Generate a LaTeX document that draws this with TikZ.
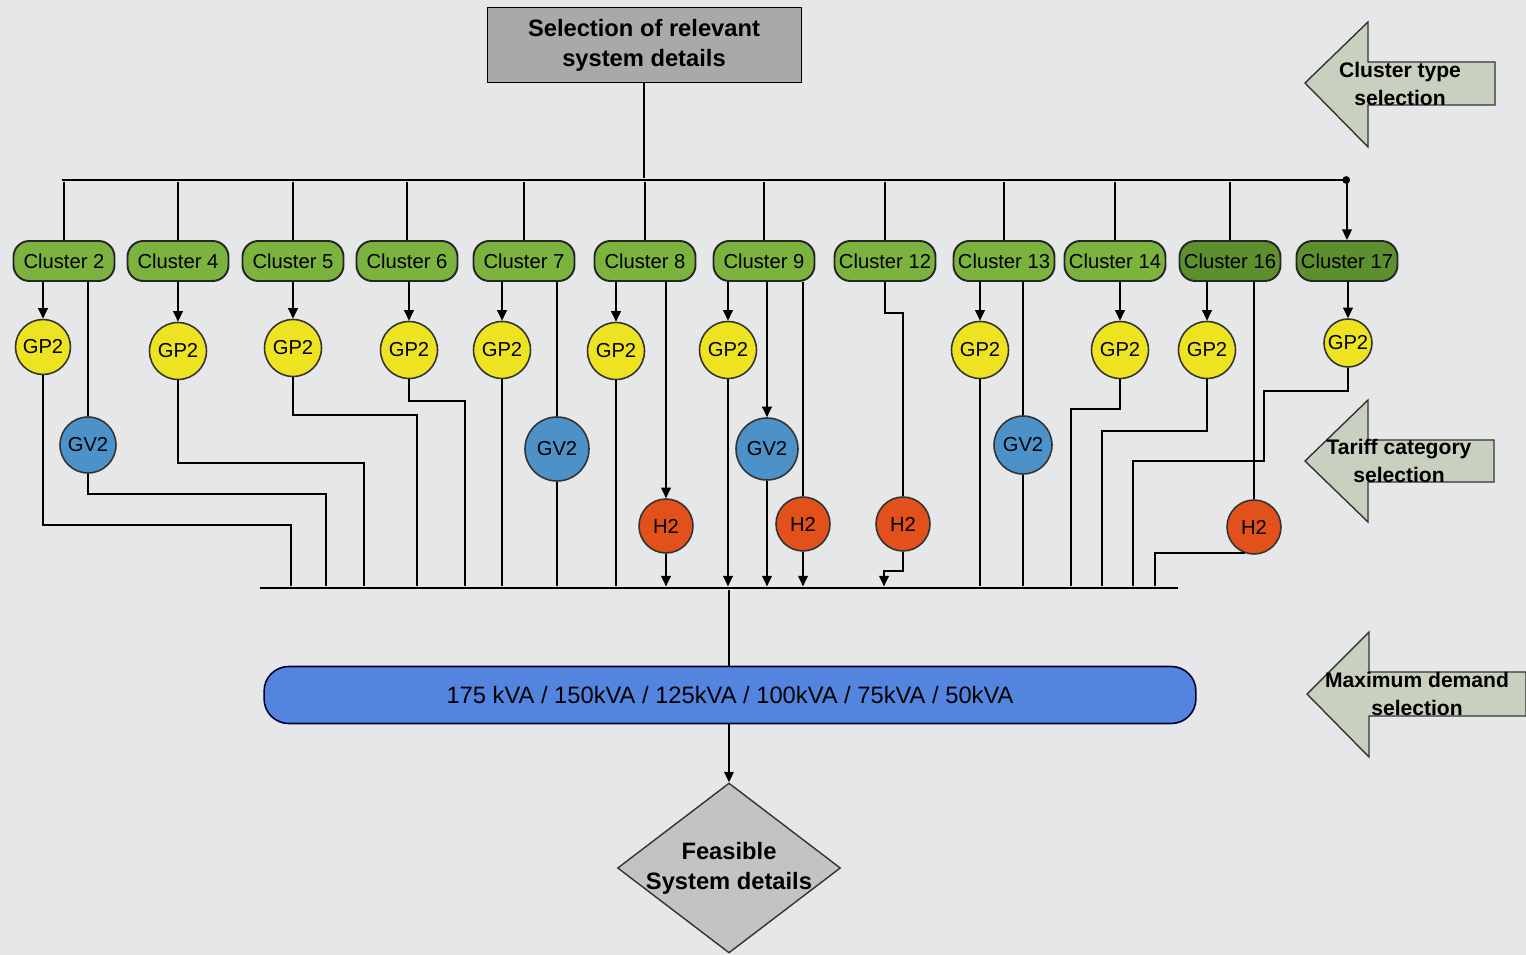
\documentclass[tikz,border=0pt]{standalone}
\usepackage{fontspec}
\setmainfont{Liberation Sans}
\usetikzlibrary{arrows.meta,shapes.geometric}

\definecolor{bgcol}{HTML}{E5E7E9}
\definecolor{clgreen}{HTML}{7CB23E}
\definecolor{cldark}{HTML}{5E8F2E}
\definecolor{gpyellow}{HTML}{EDE321}
\definecolor{gvblue}{HTML}{4C92C9}
\definecolor{hred}{HTML}{E2501C}
\definecolor{kvablue}{HTML}{5485DE}
\definecolor{boxgray}{HTML}{A9A9A9}
\definecolor{diagray}{HTML}{C3C3C3}
\definecolor{sidegray}{HTML}{C9D0BF}

\tikzset{
  conn/.style={line width=0.9pt, black},
  arr/.style={conn, -{Triangle[length=6pt,width=5.5pt]}},
  bus/.style={fill=black, inner sep=0pt, minimum height=1.4pt},
  topbox/.style={draw, fill=boxgray, minimum width=6.28cm, minimum height=1.5cm, align=center, font=\fontsize{13.5}{17}\selectfont\bfseries},
  cluster/.style={draw=black!85, line width=1.1pt, fill=clgreen, rounded corners=9pt, minimum width=2.02cm, minimum height=0.8cm, inner sep=0pt, font=\fontsize{11.5}{13}\selectfont},
  clusterdk/.style={cluster, fill=cldark},
  unit/.style={circle, draw=black!80, line width=0.9pt, inner sep=0pt, minimum size=1.14cm, font=\fontsize{11.5}{13}\selectfont},
  gp/.style={unit, fill=gpyellow},
  gv/.style={unit, fill=gvblue},
  hy/.style={unit, fill=hred, minimum size=1.08cm},
  kvabar/.style={draw=black!80!blue, line width=0.9pt, fill=kvablue, rounded corners=14pt, minimum width=18.64cm, minimum height=1.14cm, font=\fontsize{13.5}{16}\selectfont},
  feasible/.style={diamond, draw=black!80, line width=0.8pt, fill=diagray, inner sep=0pt, minimum width=4.46cm, minimum height=3.4cm},
  boldtxt/.style={align=center, font=\fontsize{13.5}{17}\selectfont\bfseries},
  sidearrow/.style={draw=black!80, line width=0.8pt, fill=sidegray},
  sidetxt/.style={align=center, font=\fontsize{12}{16}\selectfont\bfseries}
}

\begin{document}
\begin{tikzpicture}[x=0.02cm, y=-0.02cm]

\fill[bgcol] (0,0) rectangle (1526,955);
\useasboundingbox (0,0) rectangle (1526,955);

% selection box and upper bus
\node[topbox] (sel) at (644,45) {Selection of relevant\\system details};
\node[bus, minimum width=25.68cm] (tbus) at (704,180) {};
\fill (tbus.east) circle (2.2pt);
\draw[conn] (sel.south) -- (sel.south |- tbus.north);

% clusters
\node[cluster] (c2) at (64,261) {Cluster 2};
\node[cluster] (c4) at (178,261) {Cluster 4};
\node[cluster] (c5) at (293,261) {Cluster 5};
\node[cluster] (c6) at (407,261) {Cluster 6};
\node[cluster] (c7) at (524,261) {Cluster 7};
\node[cluster] (c8) at (645,261) {Cluster 8};
\node[cluster] (c9) at (764,261) {Cluster 9};
\node[cluster] (c12) at (885,261) {Cluster 12};
\node[cluster] (c13) at (1004,261) {Cluster 13};
\node[cluster] (c14) at (1115,261) {Cluster 14};
\node[clusterdk] (c16) at (1230,261) {Cluster 16};
\node[clusterdk] (c17) at (1347,261) {Cluster 17};

\draw[conn] (c2.north |- tbus.south) -- (c2.north);
\draw[conn] (c4.north |- tbus.south) -- (c4.north);
\draw[conn] (c5.north |- tbus.south) -- (c5.north);
\draw[conn] (c6.north |- tbus.south) -- (c6.north);
\draw[conn] (c7.north |- tbus.south) -- (c7.north);
\draw[conn] (c8.north |- tbus.south) -- (c8.north);
\draw[conn] (c9.north |- tbus.south) -- (c9.north);
\draw[conn] (c12.north |- tbus.south) -- (c12.north);
\draw[conn] (c13.north |- tbus.south) -- (c13.north);
\draw[conn] (c14.north |- tbus.south) -- (c14.north);
\draw[conn] (c16.north |- tbus.south) -- (c16.north);
\draw[arr] (c17.north |- tbus.south) -- (c17.north);

% tariff units
\node[gp, minimum size=1.1cm] (g2) at (43,347) {GP2};
\node[gp] (g4) at (178,351) {GP2};
\node[gp] (g5) at (293,348) {GP2};
\node[gp] (g6) at (409,350) {GP2};
\node[gp] (g7) at (502,350) {GP2};
\node[gp] (g8) at (616,351) {GP2};
\node[gp] (g9) at (728,350) {GP2};
\node[gp] (g13) at (980,350) {GP2};
\node[gp] (g14) at (1120,350) {GP2};
\node[gp] (g16) at (1207,350) {GP2};
\node[gp, minimum size=0.96cm] (g17) at (1348,343) {GP2};

\node[gv, minimum size=1.12cm] (v2) at (88,445) {GV2};
\node[gv, minimum size=1.28cm] (v7) at (557,449) {GV2};
\node[gv, minimum size=1.24cm] (v9) at (767,449) {GV2};
\node[gv, minimum size=1.16cm] (v13) at (1023,445) {GV2};

\node[hy] (h8) at (666,526) {H2};
\node[hy] (h9) at (803,524) {H2};
\node[hy] (h12) at (903,524) {H2};
\node[hy] (h16) at (1254,527) {H2};

\draw[arr] (g2.north |- c2.south) -- (g2.north);
\draw[arr] (g4.north |- c4.south) -- (g4.north);
\draw[arr] (g5.north |- c5.south) -- (g5.north);
\draw[arr] (g6.north |- c6.south) -- (g6.north);
\draw[arr] (g7.north |- c7.south) -- (g7.north);
\draw[arr] (g8.north |- c8.south) -- (g8.north);
\draw[arr] (g9.north |- c9.south) -- (g9.north);
\draw[arr] (g13.north |- c13.south) -- (g13.north);
\draw[arr] (g14.north |- c14.south) -- (g14.north);
\draw[arr] (g16.north |- c16.south) -- (g16.north);
\draw[arr] (g17.north |- c17.south) -- (g17.north);

\draw[conn] (v2.north |- c2.south) -- (v2.north);
\draw[conn] (v7.north |- c7.south) -- (v7.north);
\draw[arr] (v9.north |- c9.south) -- (v9.north);
\draw[conn] (v13.north |- c13.south) -- (v13.north);

\draw[arr] (h8.north |- c8.south) -- (h8.north);
\draw[conn] (h9.north |- c9.south) -- (h9.north);
\draw[conn] (c12.south) |- (h12.north |- 0,313) -- (h12.north);
\draw[conn] (h16.north |- c16.south) -- (h16.north);

% lower bus
\node[bus, minimum width=18.36cm] (bbus) at (719,588) {};

\draw[conn] (g2.south) |- (291,525) -- (291,0 |- bbus.north);
\draw[conn] (v2.south) |- (326,494) -- (326,0 |- bbus.north);
\draw[conn] (g4.south) |- (364,463) -- (364,0 |- bbus.north);
\draw[conn] (g5.south) |- (417,415) -- (417,0 |- bbus.north);
\draw[conn] (g6.south) |- (465,401) -- (465,0 |- bbus.north);
\draw[conn] (g7.south) -- (g7.south |- bbus.north);
\draw[conn] (v7.south) -- (v7.south |- bbus.north);
\draw[conn] (g8.south) -- (g8.south |- bbus.north);
\draw[arr] (h8.south) -- (h8.south |- bbus.north);
\draw[arr] (g9.south) -- (g9.south |- bbus.north);
\draw[arr] (v9.south) -- (v9.south |- bbus.north);
\draw[arr] (h9.south) -- (h9.south |- bbus.north);
\draw[arr] (h12.south) |- (884,571) -- (884,0 |- bbus.north);
\draw[conn] (g13.south) -- (g13.south |- bbus.north);
\draw[conn] (v13.south) -- (v13.south |- bbus.north);
\draw[conn] (g14.south) |- (1071,409) -- (1071,0 |- bbus.north);
\draw[conn] (g16.south) |- (1102,431) -- (1102,0 |- bbus.north);
\draw[conn] (g17.south) |- (1264,391) |- (1133,461) -- (1133,0 |- bbus.north);
\draw[conn] (h16.250) -| (1155,0 |- bbus.north);

% demand bar and result
\node[kvabar] (kva) at (730,695) {175 kVA / 150kVA / 125kVA / 100kVA / 75kVA / 50kVA};
\node[feasible] (fsd) at (729,868) {};
\node[boldtxt] (fsdtxt) at (fsd.center) {Feasible\\System details};

\draw[conn] (fsd.north |- bbus.south) -- (fsd.north |- kva.north);
\draw[arr] (fsd.north |- kva.south) -- (fsd.north);

% selection arrows on the right
\draw[sidearrow] (1305,83) -- (1368,22) -- (1368,62) -- (1495,62) -- (1495,105) -- (1368,105) -- (1368,147) -- cycle;
\node[sidetxt] (ctype) at (1400,84) {Cluster type\\selection};

\draw[sidearrow] (1305,461) -- (1368,400) -- (1368,440) -- (1494,440) -- (1494,482) -- (1368,482) -- (1368,522) -- cycle;
\node[sidetxt] (tcat) at (1399,461) {Tariff category\\selection};

\draw[sidearrow] (1307,694) -- (1369,632) -- (1369,672) -- (1526,672) -- (1526,716) -- (1369,716) -- (1369,757) -- cycle;
\node[sidetxt] (mdem) at (1417,694) {Maximum demand\\selection};

\end{tikzpicture}
\end{document}
